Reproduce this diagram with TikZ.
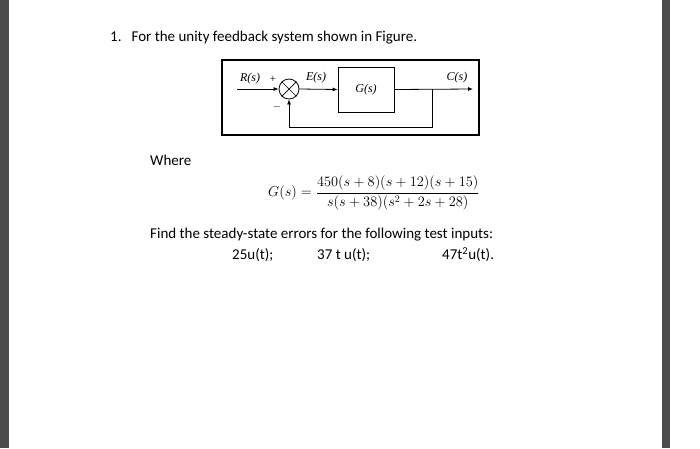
\documentclass[tikz,border=0pt]{standalone}
\usepackage{amsmath}
\usepackage{fontspec}
\setmainfont{Carlito}
\newfontfamily\tnr{Liberation Serif}
\usetikzlibrary{arrows.meta}
\begin{document}
\begin{tikzpicture}[x=1pt,y=-1pt,
  txt/.style={anchor=west,inner sep=0,font=\fontsize{15}{17}\selectfont},
  lbl/.style={inner sep=0,font=\tnr\itshape\fontsize{12}{13}\selectfont},
  sig/.style={-{Latex[length=5pt,width=4pt]},line width=0.8pt},
  ln/.style={line width=0.8pt}]
\useasboundingbox (0,0) rectangle (700,448);
\fill[white] (0,0) rectangle (700,448);
\fill[black!70] (0,0) rectangle (9,448);
\fill[black!70] (662,0) rectangle (670,448);
\node[txt] (t1) at (110,38) {1.\hspace{10pt}For the unity feedback system shown in Figure.};
\draw[line width=2pt] (222,60) rectangle (479,135);
\node[draw,line width=0.8pt,minimum width=56pt,minimum height=45pt,inner sep=0,lbl] (g) at (366,89.5) {G(s)};
\node[draw,circle,line width=0.8pt,minimum size=20pt,inner sep=0] (sum) at (289,89) {};
\draw[line width=0.7pt] (sum.north west)--(sum.south east) (sum.north east)--(sum.south west);
\coordinate (in) at (237,89);
\coordinate (out) at (473,89);
\coordinate (br) at (432,89);
\coordinate (bl) at (432,127);
\coordinate (bb) at (289,127);
\draw[sig] (in) -- (sum.west);
\draw[sig] (sum.east) -- (g.west);
\draw[sig] (g.east) -- (out);
\draw[ln] (br) -- (bl) -- (bb);
\draw[sig] (bb) -- (sum.south);
\node[lbl] (r) at (250,79) {R(s)};
\node[lbl] (e) at (316,78) {E(s)};
\node[lbl] (c) at (457,78) {C(s)};
\node[inner sep=0,font=\tnr\fontsize{11}{11}\selectfont] (p) at (273,79) {+};
\node[inner sep=0,font=\tnr\fontsize{11}{11}\selectfont] (m) at (277,107) {$-$};
\node[txt] (w) at (150,160) {Where};
\node[anchor=west,inner sep=0,font=\fontsize{14}{16}\selectfont] (eq) at (268,193)
 {$G(s)=\dfrac{450(s+8)(s+12)(s+15)}{s(s+38)(s^2+2s+28)}$};
\node[txt] (f) at (150,235) {Find the steady-state errors for the following test inputs:};
\node[txt] (a1) at (232,255) {25u(t);};
\node[txt] (a2) at (317,255) {37 t u(t);};
\node[txt] (a3) at (442,255) {47t\textsuperscript{2}u(t).};
\end{tikzpicture}
\end{document}
